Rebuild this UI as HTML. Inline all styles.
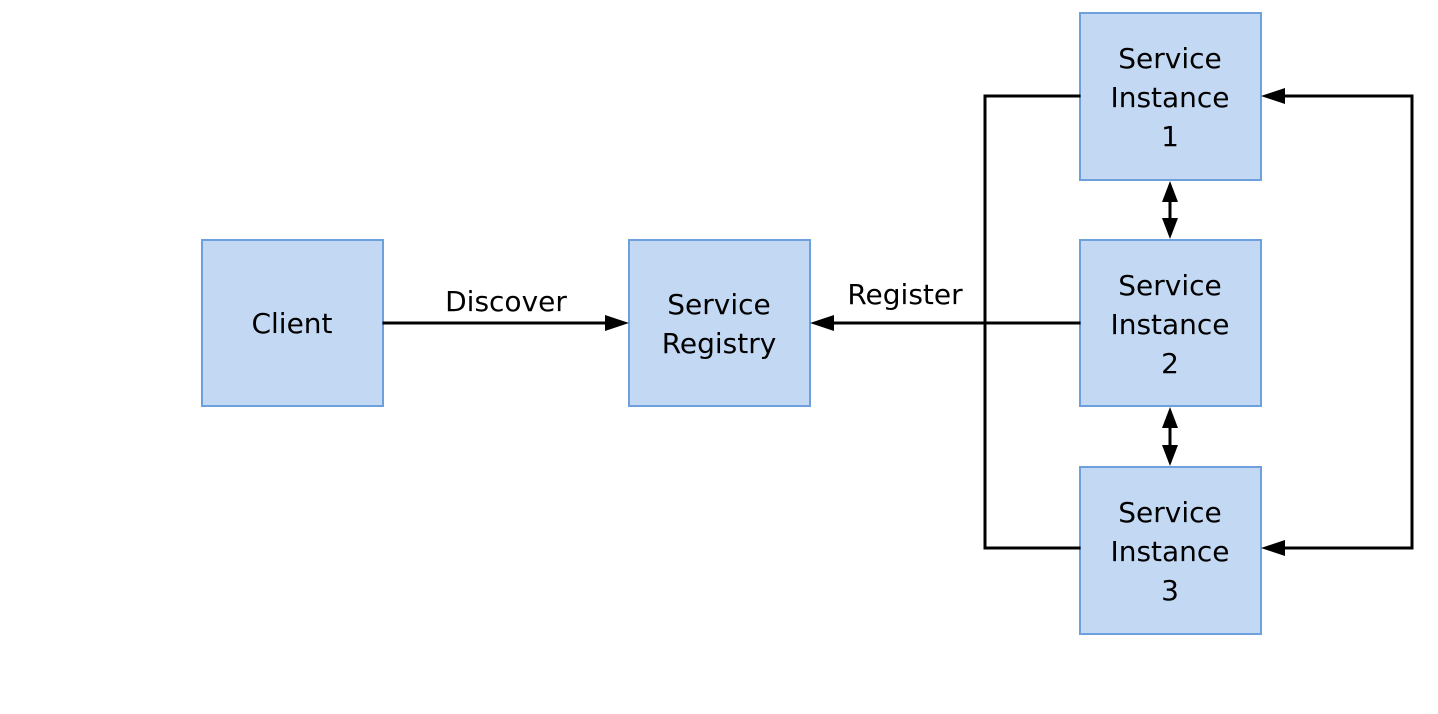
<!DOCTYPE html>
<html><head><style>body{margin:0;background:#fff}</style></head><body>
<svg width="1438" height="714" xmlns="http://www.w3.org/2000/svg" style="display:block">
<g fill="#c2d8f3" stroke="#6fa0de" stroke-width="2">
<rect x="202" y="240" width="181" height="166"/>
<rect x="629" y="240" width="181" height="166"/>
<rect x="1080" y="13" width="181" height="167"/>
<rect x="1080" y="240" width="181" height="166"/>
<rect x="1080" y="467" width="181" height="167"/>
</g>
<g stroke="#000" stroke-width="3" fill="none" stroke-linecap="square">
<polyline points="1079,96 985,96 985,548 1079,548"/>
<line x1="384" y1="323" x2="610" y2="323"/>
<line x1="1079" y1="323" x2="830" y2="323"/>
<polyline points="1282,96 1412,96 1412,548 1282,548"/>
<line x1="1170" y1="200" x2="1170" y2="220"/>
<line x1="1170" y1="427" x2="1170" y2="447"/>
</g>
<g fill="#000">
<path d="M629,323 L605,315 L605,331 Z"/>
<path d="M810,323 L834,315 L834,331 Z"/>
<path d="M1261,96 L1285,88 L1285,104 Z"/>
<path d="M1261,548 L1285,540 L1285,556 Z"/>
<path d="M1170,181 L1162,202 L1178,202 Z"/>
<path d="M1170,239 L1162,218 L1178,218 Z"/>
<path d="M1170,407 L1162,428 L1178,428 Z"/>
<path d="M1170,466 L1162,445 L1178,445 Z"/>
</g>
<g font-family="DejaVu Sans, sans-serif" font-size="28" fill="#000" text-anchor="middle">
<text x="292" y="333">Client</text>
<text x="719" y="314">Service</text>
<text x="719" y="353">Registry</text>
<text x="1170" y="68">Service</text>
<text x="1170" y="107">Instance</text>
<text x="1170" y="146">1</text>
<text x="1170" y="295">Service</text>
<text x="1170" y="334">Instance</text>
<text x="1170" y="373">2</text>
<text x="1170" y="522">Service</text>
<text x="1170" y="561">Instance</text>
<text x="1170" y="600">3</text>
<text x="506" y="311">Discover</text>
<text x="905" y="304">Register</text>
</g>
</svg>
</body></html>
